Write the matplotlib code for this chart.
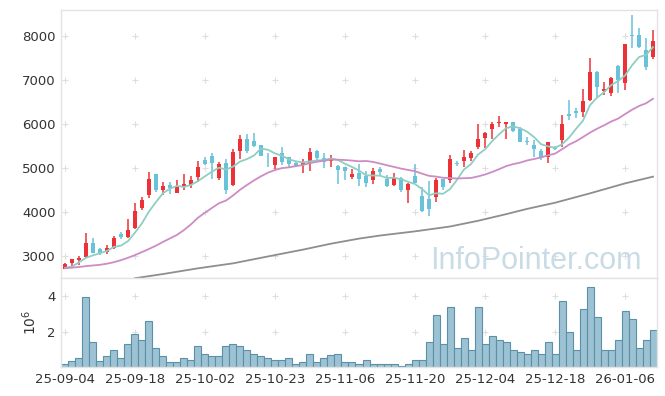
import numpy as np
import pandas as pd
import matplotlib
matplotlib.use("Agg")
import matplotlib.pyplot as plt
from matplotlib.ticker import FuncFormatter

# === Data ===
dates = [
    "25-09-04", "25-09-05", "25-09-08", "25-09-09", "25-09-10", "25-09-11", "25-09-12",
    "25-09-15", "25-09-16", "25-09-17", "25-09-18", "25-09-19", "25-09-22", "25-09-23",
    "25-09-24", "25-09-25", "25-09-26", "25-09-29", "25-09-30", "25-10-01", "25-10-02",
    "25-10-10", "25-10-13", "25-10-14", "25-10-15", "25-10-16", "25-10-17", "25-10-20",
    "25-10-21", "25-10-22", "25-10-23", "25-10-24", "25-10-27", "25-10-28", "25-10-29",
    "25-10-30", "25-10-31", "25-11-03", "25-11-04", "25-11-05", "25-11-06", "25-11-07",
    "25-11-10", "25-11-11", "25-11-12", "25-11-13", "25-11-14", "25-11-17", "25-11-18",
    "25-11-19", "25-11-20", "25-11-21", "25-11-24", "25-11-25", "25-11-26", "25-11-27",
    "25-11-28", "25-12-01", "25-12-02", "25-12-03", "25-12-04", "25-12-05", "25-12-08",
    "25-12-09", "25-12-10", "25-12-11", "25-12-12", "25-12-15", "25-12-16", "25-12-17",
    "25-12-18", "25-12-19", "25-12-22", "25-12-23", "25-12-24", "25-12-26", "25-12-29",
    "25-12-30", "26-01-02", "26-01-05", "26-01-06", "26-01-07", "26-01-08", "26-01-09",
    "26-01-12",
]

opens = [2705, 2830, 2900, 2970, 3290, 3150, 3100, 3190, 3500, 3430,
         3645, 4100, 4395, 4865, 4500, 4610, 4440, 4580, 4615, 4790,
         5180, 5270, 4765, 5105, 4615, 5385, 5660, 5620, 5525, 5250,
         5070, 5335, 5240, 5115, 5075, 5105, 5395, 5220, 5165, 5045,
         5015, 4805, 4879, 4818, 4727, 4985, 4750, 4621, 4780, 4500,
         4818, 4364, 4303, 4349, 4750, 4727, 5121, 5159, 5225, 5485,
         5689, 5886, 6015, 6007, 6045, 5879, 5610, 5523, 5386, 5257,
         5485, 5636, 6227, 6303, 6280, 6545, 7189, 6757, 6697, 7318,
         6924, 8010, 8023, 7682, 7530]
highs = [2830, 2940, 3005, 3515, 3410, 3175, 3240, 3460, 3555, 3830,
         4200, 4330, 4915, 4870, 4690, 4690, 4725, 4870, 4820, 5165,
         5260, 5330, 5145, 5195, 5425, 5750, 5775, 5800, 5530, 5335,
         5250, 5470, 5250, 5130, 5200, 5450, 5400, 5350, 5295, 5070,
         5020, 4975, 5083, 4940, 4992, 5015, 4840, 4894, 4790, 4651,
         5091, 4576, 4712, 4765, 4760, 5295, 5170, 5409, 5380, 6000,
         5826, 6053, 6175, 6045, 6050, 5940, 5712, 5636, 5440, 5598,
         5500, 6205, 6545, 6356, 6788, 7492, 7200, 6947, 7060, 7330,
         7818, 8477, 8174, 7947, 8136]
lows = [2700, 2760, 2800, 2960, 3060, 3020, 3050, 3170, 3390, 3400,
        3620, 4050, 4310, 4460, 4390, 4410, 4435, 4500, 4540, 4690,
        5060, 4745, 4730, 4410, 4600, 5200, 5335, 5480, 5270, 5020,
        4975, 5070, 5015, 5015, 4895, 4940, 5145, 5010, 5015, 4640,
        4730, 4745, 4590, 4576, 4636, 4818, 4560, 4600, 4462, 4197,
        4650, 4000, 3909, 4235, 4500, 4651, 5045, 5030, 5150, 5440,
        5447, 5652, 5920, 5652, 5820, 5598, 5523, 5257, 5180, 5121,
        5400, 5485, 6091, 6129, 6152, 6530, 6621, 6659, 6636, 6697,
        6773, 7720, 7735, 7227, 7477]
closes = [2818, 2930, 2960, 3290, 3075, 3065, 3190, 3415, 3430, 3590,
          4020, 4270, 4750, 4500, 4590, 4545, 4575, 4640, 4725, 5030,
          5085, 5110, 5090, 4500, 5370, 5660, 5390, 5500, 5280, 5240,
          5240, 5130, 5090, 5055, 5120, 5355, 5235, 5145, 5220, 4955,
          4930, 4865, 4750, 4666, 4932, 4917, 4598, 4780, 4500, 4636,
          4666, 4030, 4068, 4727, 4576, 5197, 5083, 5250, 5340, 5652,
          5789, 6000, 6035, 6045, 5848, 5598, 5595, 5432, 5235, 5598,
          5424, 6000, 6189, 6242, 6523, 7189, 6848, 6795, 7045, 7000,
          7818, 8000, 7742, 7288, 7886]

volume = [0.24, 0.42, 0.62, 3.93, 1.45, 0.42, 0.70, 1.06, 0.62, 1.34,
          1.94, 1.56, 2.61, 1.12, 0.70, 0.40, 0.40, 0.57, 0.51, 1.28,
          0.84, 0.68, 0.68, 1.28, 1.39, 1.28, 1.01, 0.84, 0.68, 0.57,
          0.51, 0.51, 0.62, 0.29, 0.35, 0.84, 0.35, 0.62, 0.75, 0.79,
          0.35, 0.35, 0.29, 0.51, 0.29, 0.24, 0.29, 0.29, 0.18, 0.24,
          0.51, 0.46, 1.45, 2.99, 1.39, 3.38, 1.17, 1.72, 1.01, 3.38,
          1.34, 1.78, 1.61, 1.50, 1.01, 0.95, 0.79, 1.01, 0.84, 1.50,
          0.84, 3.71, 2.00, 1.01, 3.32, 4.53, 2.83, 1.06, 1.06, 1.61,
          3.16, 2.72, 1.17, 1.56, 2.11]  # millions of shares

# moving averages: the first values depend on earlier sessions
ma5_head = [2730, 2760, 2855, 2960]
ma20_head = [2720, 2735, 2750, 2770, 2785, 2800, 2825, 2860, 2905, 2960,
             3020, 3090, 3160, 3235, 3320, 3400, 3480, 3590, 3720]
# long MA (120-day) only visible from ~Sep 18 on, read at a few sessions
ma120_idx = [10, 14, 19, 24, 29, 34, 38, 42, 45, 50, 55, 59, 63, 66, 70, 75, 80, 84]
ma120_val = [2495, 2590, 2720, 2833, 2990, 3145, 3280, 3395, 3465, 3560,
             3670, 3800, 3950, 4070, 4210, 4424, 4650, 4803]

# === Build frame ===
df = pd.DataFrame({"Date": dates, "Open": opens, "High": highs,
                   "Low": lows, "Close": closes, "Volume": np.array(volume) * 1e6})
x = np.arange(len(df))
ma5 = df["Close"].rolling(5).mean().to_numpy()
ma5[:len(ma5_head)] = ma5_head
ma20 = df["Close"].rolling(20).mean().to_numpy()
ma20[:len(ma20_head)] = ma20_head

UP = "#ec3237"
DOWN = "#6ac1da"
GRID = "#dedede"
SPINE = "#e3e3e3"

fig = plt.figure(figsize=(6.65, 3.96), dpi=100)
ax = fig.add_axes([61 / 665, 1 - 278 / 396, 596 / 665, 268 / 396])
axv = fig.add_axes([61 / 665, 1 - 367 / 396, 596 / 665, 89 / 396], sharex=ax)

# === Candles ===
up = df["Close"] >= df["Open"]
colors = np.where(up, UP, DOWN)
ax.vlines(x, df["Low"], df["High"], colors=colors, linewidth=1.1, zorder=2)
body_lo = np.minimum(df["Open"], df["Close"])
body_h = np.maximum((df["Close"] - df["Open"]).abs(), 12)
ax.bar(x, body_h, bottom=body_lo, width=0.62, color=colors, linewidth=0, zorder=3)

# === Moving averages ===
ax.plot(x, ma5, color="#8dcfc2", lw=1.3, zorder=4)
ax.plot(x, ma20, color="#cc8cc4", lw=1.3, zorder=4)
ax.plot(ma120_idx, ma120_val, color="#8e8e8e", lw=1.3, zorder=4)

ax.text(0.62, 0.035, "InfoPointer.com", transform=ax.transAxes,
        fontsize=22, family=["Liberation Sans", "DejaVu Sans"],
        color="#c9dbe5", ha="left", va="baseline", zorder=1)

ax.set_ylim(2500, 8590)
ax.set_yticks([3000, 4000, 5000, 6000, 7000, 8000])

# === Volume ===
axv.bar(x, df["Volume"], width=1.0, color="#9dc2d3", edgecolor="#5b90a9",
        linewidth=0.8, zorder=2)
axv.set_ylim(1e5, 5e6)
axv.set_yticks([2e6, 4e6])
axv.yaxis.set_major_formatter(FuncFormatter(lambda v, p: f"{v / 1e6:.0f}"))
axv.set_ylabel(r"$10^6$", fontsize=10, color="#333333", labelpad=6)

tick_pos = x[::10]
axv.set_xticks(tick_pos)
axv.set_xticklabels([dates[i] for i in tick_pos])
axv.set_xlim(-0.57, len(df) - 0.43)

# === Styling: no tick marks, '+' marks at grid crossings ===
for a in (ax, axv):
    for s in a.spines.values():
        s.set_color(SPINE)
        s.set_linewidth(1.0)
    a.tick_params(length=0, colors="#333333", labelsize=9.5, pad=4)
    gx, gy = np.meshgrid(tick_pos, a.get_yticks())
    a.plot(gx.ravel(), gy.ravel(), "+", color=GRID, ms=4.5, mew=0.8, zorder=0)
ax.tick_params(labelbottom=False)

fig.savefig("out.png", dpi=100)
